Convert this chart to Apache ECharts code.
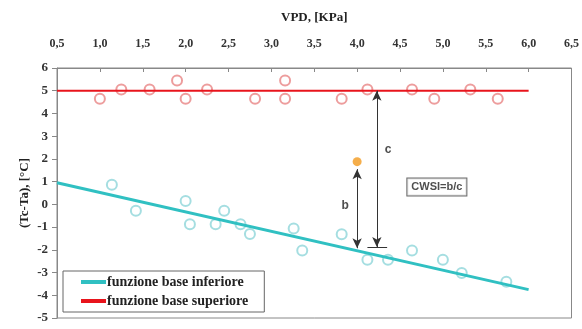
<!DOCTYPE html>
<html>
<head>
<meta charset="utf-8">
<script src="https://cdn.jsdelivr.net/npm/echarts@6/dist/echarts.min.js"></script>
<style>
  html, body { margin: 0; padding: 0; background: #fff; }
  #chart { width: 582px; height: 329px; }
</style>
</head>
<body>
<div id="chart"></div>
<script>
// punti misurati (VPD, Tc-Ta)
var upperX = [1.0, 1.25, 1.58, 1.9, 2.0, 2.25, 2.81, 3.16, 3.16, 3.82, 4.12, 4.64, 4.9, 5.32, 5.64];
var upperY = [4.65, 5.05, 5.05, 5.45, 4.65, 5.05, 4.65, 5.45, 4.65, 4.65, 5.05, 5.05, 4.65, 5.05, 4.65];
var lowerX = [1.14, 1.42, 2.0, 2.05, 2.35, 2.45, 2.64, 2.75, 3.26, 3.36, 3.82, 4.12, 4.36, 4.64, 5.0, 5.22, 5.74];
var lowerY = [0.86, -0.28, 0.15, -0.88, -0.88, -0.28, -0.87, -1.3, -1.06, -2.03, -1.32, -2.44, -2.44, -2.03, -2.44, -3.02, -3.41];

// funzioni base
var baseX = [0.5, 6.0];
var lowerLine = [0.95, -3.75];
var upperLine = [5, 5];

// punto in stress e annotazioni
var stressPoint = [4.0, 1.88];
var arrowB = [[4.0, 1.55], [4.0, -1.93]];
var arrowC = [[4.23, 5.0], [4.23, -1.88]];
var barC = [[4.12, -1.9], [4.35, -1.9]];
var labelB = [3.86, -0.05];
var labelC = [4.36, 2.4];
var labelCwsi = [4.93, 0.76];

var names = ['funzione base inferiore', 'funzione base superiore'];

function pairs(xs, ys) {
  return xs.map(function (x, i) { return [x, ys[i]]; });
}

var chart = echarts.init(document.getElementById('chart'));
var serif = '"Liberation Serif", "DejaVu Serif", serif';
var sans = '"Liberation Sans", Arial, sans-serif';

var option = {
  backgroundColor: '#fff',
  animation: false,
  grid: {
    left: 57, right: 10, top: 68, bottom: 11,
    show: true, borderColor: '#888', borderWidth: 1
  },
  legend: {
    data: names,
    orient: 'vertical',
    left: 63, top: 271,
    padding: [4, 16, 4, 18],
    itemGap: 5,
    itemWidth: 25,
    itemHeight: 4,
    icon: 'rect',
    borderColor: '#666',
    borderWidth: 1,
    backgroundColor: '#fff',
    textStyle: { fontFamily: serif, fontWeight: 'bold', fontSize: 14, color: '#222', padding: [0, 0, 0, -4] }
  },
  xAxis: {
    type: 'value',
    position: 'top',
    min: 0.5, max: 6.5, interval: 0.5,
    name: 'VPD, [KPa]',
    nameLocation: 'middle',
    nameGap: 44,
    nameMoveOverlap: false,
    nameTextStyle: { fontFamily: serif, fontWeight: 'bold', fontSize: 13, color: '#222' },
    axisLine: { onZero: false, lineStyle: { color: '#888' } },
    axisTick: { inside: true, length: 4, lineStyle: { color: '#888' } },
    splitLine: { show: false },
    axisLabel: {
      margin: 18,
      fontFamily: serif, fontWeight: 'bold', fontSize: 12, color: '#333',
      formatter: function (v) { return v.toFixed(1).replace('.', ','); }
    }
  },
  yAxis: {
    type: 'value',
    min: -5, max: 6, interval: 1,
    name: '(Tc-Ta), [°C]',
    nameLocation: 'middle',
    nameGap: 26,
    nameRotate: 90,
    nameMoveOverlap: false,
    nameTextStyle: { fontFamily: serif, fontWeight: 'bold', fontSize: 13, color: '#222' },
    axisLine: { show: true, onZero: false, lineStyle: { color: '#888' } },
    axisTick: { show: true, length: 5, lineStyle: { color: '#888' } },
    splitLine: { show: false },
    axisLabel: { margin: 9, fontFamily: serif, fontWeight: 'bold', fontSize: 13, color: '#333' }
  },
  series: [
    {
      name: 'punti superiori',
      type: 'scatter',
      data: pairs(upperX, upperY),
      symbol: 'emptyCircle',
      symbolSize: 10,
      itemStyle: { color: '#e98585', borderWidth: 1.3 },
      z: 3
    },
    {
      name: 'punti inferiori',
      type: 'scatter',
      data: pairs(lowerX, lowerY),
      symbol: 'emptyCircle',
      symbolSize: 10,
      itemStyle: { color: '#8fd6da', borderWidth: 1.3 },
      z: 3
    },
    {
      name: names[1],
      type: 'line',
      data: pairs(baseX, upperLine),
      symbol: 'none',
      itemStyle: { color: '#e8141c' },
      lineStyle: { color: '#e8141c', width: 2 },
      z: 4
    },
    {
      name: names[0],
      type: 'line',
      data: pairs(baseX, lowerLine),
      symbol: 'none',
      itemStyle: { color: '#30c0c2' },
      lineStyle: { color: '#30c0c2', width: 3 },
      z: 4
    },
    {
      name: 'punto',
      type: 'scatter',
      data: [stressPoint],
      symbol: 'circle',
      symbolSize: 9,
      itemStyle: { color: '#f39a1e' },
      z: 6,
      markLine: {
        silent: true,
        symbol: ['arrow', 'arrow'],
        symbolSize: [7, 10],
        label: { show: false },
        lineStyle: { color: '#333', width: 1, type: 'solid' },
        data: [
          [{ coord: arrowB[0] }, { coord: arrowB[1] }],
          [{ coord: arrowC[0] }, { coord: arrowC[1] }],
          [{ coord: barC[0], symbol: 'none' }, { coord: barC[1], symbol: 'none' }]
        ]
      }
    },
    {
      name: 'etichette',
      type: 'scatter',
      symbolSize: 0,
      silent: true,
      z: 7,
      label: { show: true, position: 'inside', fontFamily: sans, fontWeight: 'bold', fontSize: 12, color: '#222' },
      data: [
        { value: labelB, label: { formatter: 'b' } },
        { value: labelC, label: { formatter: 'c' } },
        {
          value: labelCwsi,
          label: {
            formatter: 'CWSI=b/c', fontSize: 11,
            borderColor: '#444', borderWidth: 1, padding: [3, 4],
            backgroundColor: '#fff'
          }
        }
      ]
    }
  ]
};

chart.setOption(option);
</script>
</body>
</html>
